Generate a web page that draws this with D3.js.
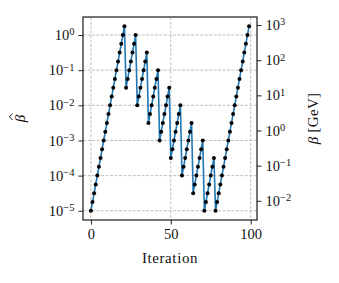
<!DOCTYPE html>
<html>
<head>
<meta charset="utf-8">
<script src="https://cdn.jsdelivr.net/npm/d3@7"></script>
<style>
  body { margin: 0; background: #fff; }
  text { font-family: "Liberation Serif", "DejaVu Serif", serif; fill: #111; }
</style>
</head>
<body>
<div id="chart-area"></div>
<script>
// beta-hat per iteration (index = iteration)
let betaHat = [
    1e-5, 1.78e-5, 3.16e-5, 5.62e-5, 1e-4, 1.78e-4, 3.16e-4, 5.62e-4, 1e-3, 1.78e-3, 3.16e-3,
    5.62e-3, 1e-2, 1.78e-2, 3.16e-2, 5.62e-2, 0.1, 0.178, 0.316, 0.562, 1.0, 1.78,
    3.16e-2, 5.62e-2, 0.1, 0.178, 0.316, 0.562, 1.0,
    1e-2, 1.78e-2, 3.16e-2, 5.62e-2, 0.1, 0.178, 0.316,
    3.16e-3, 5.62e-3, 1e-2, 1.78e-2, 3.16e-2, 5.62e-2, 0.1,
    1e-3, 1.78e-3, 3.16e-3, 5.62e-3, 1e-2, 1.78e-2, 3.16e-2,
    3.16e-4, 5.62e-4, 1e-3, 1.78e-3, 3.16e-3, 5.62e-3, 1e-2,
    1e-4, 1.78e-4, 3.16e-4, 5.62e-4, 1e-3, 1.78e-3, 3.16e-3,
    3.16e-5, 5.62e-5, 1e-4, 1.78e-4, 3.16e-4, 5.62e-4, 1e-3,
    1e-5, 1.78e-5, 3.16e-5, 5.62e-5, 1e-4, 1.78e-4, 3.16e-4,
    1e-5, 1.78e-5, 3.16e-5, 5.62e-5, 1e-4, 1.78e-4, 3.16e-4, 5.62e-4, 1e-3, 1.78e-3, 3.16e-3,
    5.62e-3, 1e-2, 1.78e-2, 3.16e-2, 5.62e-2, 0.1, 0.178, 0.316, 0.562, 1.0, 1.78
];

// beta [GeV] = betaHat * gevScale
let gevScale = 520;

let xTicks = [0, 50, 100];
let leftTicks = [1e-5, 1e-4, 1e-3, 1e-2, 1e-1, 1e0];
let rightTicks = [1e-2, 1e-1, 1e0, 1e1, 1e2, 1e3];

let margin = {left: 83, right: 82, top: 17, bottom: 63};
let width = 339 - margin.left - margin.right,
    height = 283 - margin.top - margin.bottom;

let svg = d3.select("#chart-area")
    .append("svg")
    .attr("width", 339)
    .attr("height", 283)
    .append("g")
    .attr("transform", "translate(" + margin.left + ", " + margin.top + ")");

// X Scale (5% margins like matplotlib)
let xMax = betaHat.length - 1;
let x = d3.scaleLinear()
    .domain([-0.05 * xMax, xMax * 1.05])
    .range([0, width]);

// Y Scale, log with 5% margins in decades
let lo = Math.log10(d3.min(betaHat)), hi = Math.log10(d3.max(betaHat));
let pad = 0.05 * (hi - lo);
let y = d3.scaleLog()
    .domain([Math.pow(10, lo - pad), Math.pow(10, hi + pad)])
    .range([height, 0]);

let y2 = d3.scaleLog()
    .domain(y.domain().map(function (d) { return d * gevScale; }))
    .range([height, 0]);

// Grid
svg.append("g")
    .selectAll("line.h")
    .data(leftTicks)
    .enter().append("line")
    .attr("x1", 0).attr("x2", width)
    .attr("y1", function (d) { return y(d); })
    .attr("y2", function (d) { return y(d); })
    .attr("stroke", "#b0b0b0")
    .attr("stroke-width", 0.8)
    .attr("stroke-dasharray", "3,1.5");

svg.append("g")
    .selectAll("line.v")
    .data(xTicks)
    .enter().append("line")
    .attr("y1", 0).attr("y2", height)
    .attr("x1", function (d) { return x(d); })
    .attr("x2", function (d) { return x(d); })
    .attr("stroke", "#b0b0b0")
    .attr("stroke-width", 0.8)
    .attr("stroke-dasharray", "3,1.5");

// Line
let line = d3.line()
    .x(function (d, i) { return x(i); })
    .y(function (d) { return y(d); });

svg.append("path")
    .datum(betaHat)
    .attr("d", line)
    .attr("fill", "none")
    .attr("stroke", "#1f77b4")
    .attr("stroke-width", 1.6);

// Points
svg.selectAll("circle")
    .data(betaHat)
    .enter()
    .append("circle")
    .attr("cx", function (d, i) { return x(i); })
    .attr("cy", function (d) { return y(d); })
    .attr("r", 2)
    .attr("fill", "#000");

// Power-of-ten labels with superscript
function powLabel(sel) {
    sel.selectAll(".tick text").each(function (d) {
        let t = d3.select(this);
        let e = Math.round(Math.log10(d));
        t.text(null);
        t.append("tspan").text("10");
        t.append("tspan")
            .attr("dy", "-0.45em")
            .attr("font-size", "10.5px")
            .text(e < 0 ? "\u2212" + (-e) : e);
    });
}

// X Axis
let xAxisCall = d3.axisBottom(x).tickValues(xTicks).tickSize(4.5).tickPadding(4);
svg.append("g")
    .attr("class", "x axis")
    .attr("transform", "translate(0," + height + ")")
    .call(xAxisCall);

// Y Axis left
let yAxisCall = d3.axisLeft(y).tickValues(leftTicks).tickSize(4.5).tickPadding(4);
svg.append("g")
    .attr("class", "y axis")
    .call(yAxisCall)
    .call(powLabel);

// Y Axis right
let y2AxisCall = d3.axisRight(y2).tickValues(rightTicks).tickSize(4.5).tickPadding(4);
svg.append("g")
    .attr("class", "y2 axis")
    .attr("transform", "translate(" + width + ",0)")
    .call(y2AxisCall)
    .call(powLabel);

svg.selectAll(".axis .domain").remove();
svg.selectAll(".axis line").attr("stroke", "#222").attr("stroke-width", 1);
svg.selectAll(".axis text")
    .attr("font-family", "Liberation Serif")
    .attr("font-size", "14.5px")
    .attr("fill", "#111");

// Frame
svg.append("rect")
    .attr("width", width)
    .attr("height", height)
    .attr("fill", "none")
    .attr("stroke", "#222")
    .attr("stroke-width", 1.25);

// X Label
svg.append("text")
    .attr("x", width / 2)
    .attr("y", height + 43)
    .attr("font-size", "15px")
    .attr("letter-spacing", "0.6px")
    .attr("text-anchor", "middle")
    .text("Iteration");

// Y Label left: beta with a hat
let ll = svg.append("g")
    .attr("transform", "translate(-58," + (height / 2) + ") rotate(-90)");
ll.append("text")
    .attr("font-size", "15px")
    .attr("font-style", "italic")
    .attr("text-anchor", "middle")
    .text("\u03b2");
ll.append("path")
    .attr("d", "M-1.5,-12.5 L1.8,-15.5 L5,-12.5")
    .attr("fill", "none")
    .attr("stroke", "#111")
    .attr("stroke-width", 0.9);

// Y Label right
let rl = svg.append("text")
    .attr("transform", "translate(" + (width + 61) + "," + (height / 2) + ") rotate(-90)")
    .attr("font-size", "15px")
    .attr("letter-spacing", "0.3px")
    .attr("text-anchor", "middle");
rl.append("tspan").attr("font-style", "italic").text("\u03b2");
rl.append("tspan").text(" [GeV]");
</script>
</body>
</html>
